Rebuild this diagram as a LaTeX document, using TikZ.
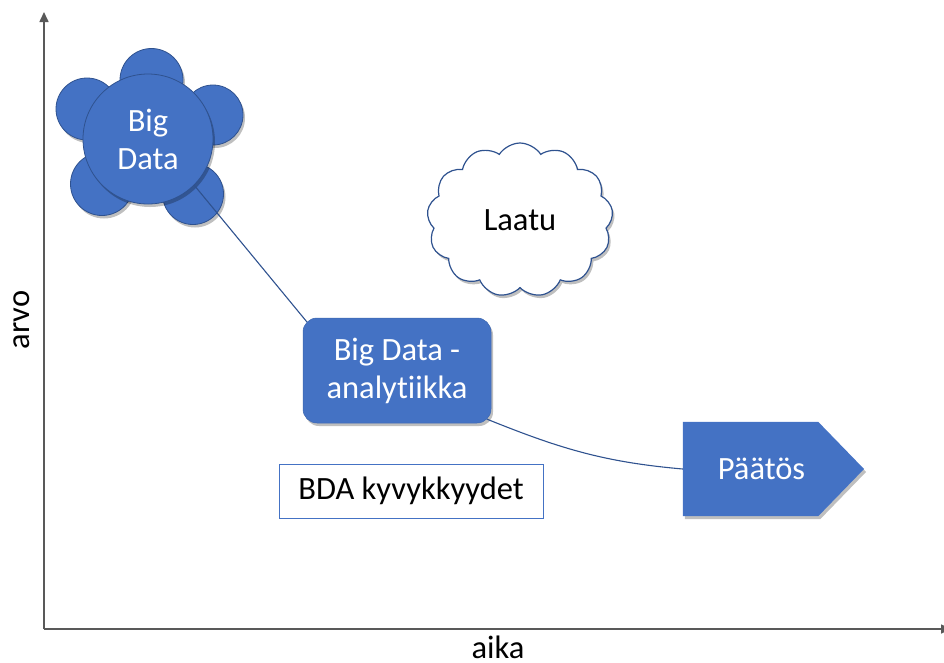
\documentclass[tikz,border=0pt]{standalone}
\usepackage{fontspec}
\setmainfont{Carlito}[Ligatures=NoCommon]
\usetikzlibrary{shapes.symbols,shadows,arrows.meta,backgrounds,calc}
\definecolor{bdblue}{HTML}{4472C4}
\definecolor{bdedge}{HTML}{2F528F}
\definecolor{axisgray}{HTML}{595959}

\begin{document}
\begin{tikzpicture}[x=1pt,y=-1pt,
  lbl/.style={font=\fontsize{32.5}{38}\selectfont},
  softshadow/.style={drop shadow={shadow xshift=2pt,shadow yshift=-3pt,opacity=0.25,fill=black}},
  petal/.style={circle,fill=bdblue,draw=bdedge,line width=0.8pt,inner sep=0pt,softshadow},
  core/.style={circle,fill=bdblue,draw=bdedge,line width=0.8pt,inner sep=0pt,
    minimum size=130pt,softshadow,lbl,text=white,align=center},
  stepbox/.style={rectangle,rounded corners=14pt,fill=bdblue,draw=bdblue!90!black,line width=0.5pt,
    minimum width=188pt,minimum height=105pt,inner sep=0pt,softshadow,lbl,text=white,align=center},
  capbox/.style={rectangle,draw=bdblue,line width=1pt,fill=white,minimum width=264pt,
    minimum height=54pt,inner sep=0pt,lbl},
  cloudbox/.style={cloud,cloud puffs=13,cloud puff arc=115,aspect=1.2,draw=bdedge,line width=1.2pt,
    fill=white,minimum width=186pt,minimum height=154pt,inner sep=0pt,softshadow,lbl},
  conn/.style={draw=bdedge,line width=1.1pt},
  axisline/.style={draw=axisgray,line width=1.6pt,-{Triangle[length=10pt,width=9pt]}}
]
% page size
\useasboundingbox (0,0) rectangle (944,662);

% axes
\coordinate (origin) at (44,629);
\coordinate (ytop) at (44,12);
\coordinate (xend) at (951,629);
\draw[axisline] (origin) -- (ytop);
\draw[axisline] (origin) -- (xend);
\node[lbl,rotate=90] (arvo) at (22,320) {arvo};
\node[lbl,anchor=base,inner sep=0pt] (aika) at (498,658) {aika};

% Big Data flower: petals behind the core circle
\node[petal,minimum size=63pt] (p1) at (151.5,80) {};
\node[petal,minimum size=62pt] (p2) at (87,109) {};
\node[petal,minimum size=60pt] (p3) at (213,115) {};
\node[petal,minimum size=63pt] (p4) at (102,184) {};
\node[petal,minimum size=61pt] (p5) at (193,194) {};
\node[core] (bigdata) at (148,139) {Big\\Data};

% analytics box and capabilities label
\node[stepbox] (analytics) at (397,370.5) {Big Data -\\analytiikka};
\node[capbox] (caps) at (411,491) {BDA kyvykkyydet};

% quality cloud
\node[cloudbox] (laatu) at (520,220) {Laatu};

% decision pentagon
\node[lbl,text=white,minimum width=135pt,minimum height=94pt,inner sep=0pt] (paatos) at (750.5,469) {\hspace*{22pt}Päätös};
\coordinate (tip) at (864,469);
\begin{scope}[on background layer]
  \fill[bdblue,softshadow] (paatos.north west) -- (paatos.north east) -- (tip)
    -- (paatos.south east) -- (paatos.south west) -- cycle;
\end{scope}

% connectors
\draw[conn] (bigdata.-45) -- ($(analytics.north west)+(4,4)$);
\draw[conn] ($(analytics.south east)+(-4,-4)$) to[out=-22,in=175] (paatos.west);
\end{tikzpicture}
\end{document}
